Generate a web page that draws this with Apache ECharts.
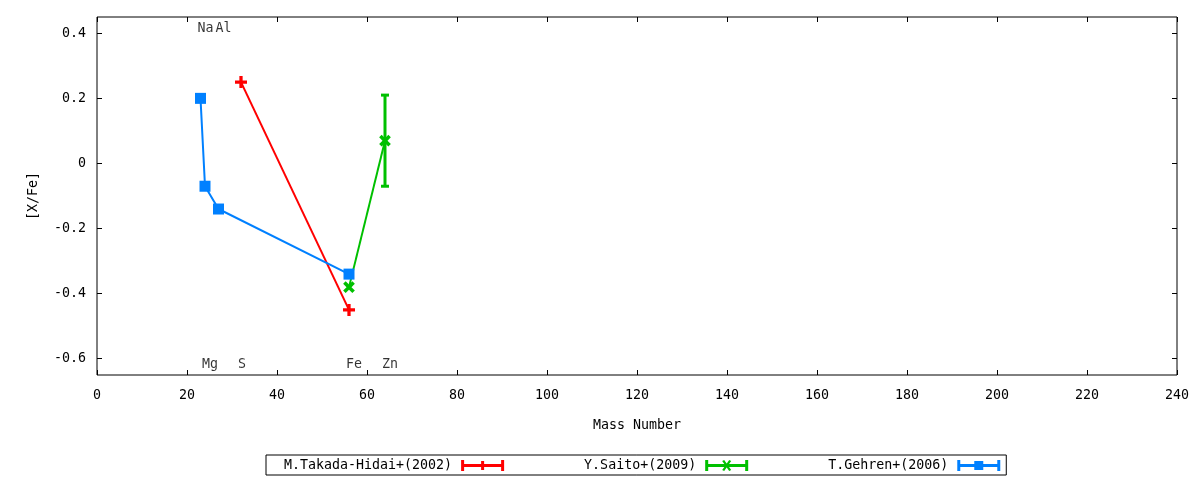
<!DOCTYPE html>
<html>
<head>
<meta charset="utf-8">
<script src="https://cdn.jsdelivr.net/npm/echarts@6/dist/echarts.min.js"></script>
<style>
html,body{margin:0;padding:0;background:#fff;}
#chart{width:1200px;height:480px;}
</style>
</head>
<body>
<div id="chart"></div>
<script>
// ---- data ----
var seriesNames = ['M.Takada-Hidai+(2002)', 'Y.Saito+(2009)', 'T.Gehren+(2006)'];
var takadaX = [32, 56];
var takadaY = [0.25, -0.45];
var takadaErr = [0, 0];
var saitoX = [56, 64];
var saitoY = [-0.38, 0.07];
var saitoErr = [0, 0.14];
var gehrenX = [23, 24, 27, 56];
var gehrenY = [0.2, -0.07, -0.14, -0.34];
var gehrenErr = [0, 0, 0, 0];
var topElements = ['Na', 'Al'];
var topElementMass = [23, 27];
var bottomElements = ['Mg', 'S', 'Fe', 'Zn'];
var bottomElementMass = [24, 32, 56, 64];
var yTickValues = [-0.6, -0.4, -0.2, 0, 0.2, 0.4];
var xTickLabels = ['0','20','40','60','80','100','120','140','160','180','200','220','240'];

var FONT = 'DejaVu Sans Mono';
var FS = 13.3;
var colors = ['#ff0000', '#00c000', '#0080ff'];

function zip(xs, ys) { return xs.map(function (x, i) { return [x, ys[i]]; }); }
function zipErr(xs, ys, es) { return xs.map(function (x, i) { return [x, ys[i], es[i]]; }); }

var plusPath = 'path://M4,0h3v4h4v3h-4v4h-3v-4h-4v-3h4z';
var barBase = 'M0,0h3v11h-3z M40,0h3v11h-3z M0,4h43v3h-43z ';
var legendIcons = [
  'path://' + barBase + 'M20,1h3v9h-3z',
  'path://' + barBase + 'M17,1L19,0L26,10L24,11Z M24,0L26,1L19,11L17,10Z',
  'path://' + barBase + 'M17,1h9v9h-9z'
];

function errRender(color) {
  return function (params, api) {
    var x = api.value(0), y = api.value(1), e = api.value(2);
    if (!e) return null;
    var top = api.coord([x, y + e]);
    var bot = api.coord([x, y - e]);
    var hw = 4;
    var st = { stroke: color, lineWidth: 3 };
    return {
      type: 'group',
      children: [
        { type: 'line', shape: { x1: top[0], y1: top[1], x2: bot[0], y2: bot[1] }, style: st },
        { type: 'line', shape: { x1: top[0] - hw, y1: top[1], x2: top[0] + hw, y2: top[1] }, style: st },
        { type: 'line', shape: { x1: bot[0] - hw, y1: bot[1], x2: bot[0] + hw, y2: bot[1] }, style: st }
      ]
    };
  };
}

function lineSeries(idx, data, symbol, size, rotate) {
  return {
    name: seriesNames[idx],
    type: 'line',
    data: data,
    symbol: symbol,
    symbolSize: size,
    symbolRotate: rotate || 0,
    showSymbol: true,
    lineStyle: { color: colors[idx], width: 2 },
    itemStyle: { color: colors[idx], borderWidth: 0 },
    z: 3 + idx,
    animation: false,
    emphasis: { disabled: true }
  };
}
function errSeries(idx, data) {
  return {
    name: seriesNames[idx],
    type: 'custom',
    data: data,
    renderItem: errRender(colors[idx]),
    z: 3 + idx,
    animation: false,
    silent: true
  };
}

function elemLabelSeries(names, masses, yVal) {
  return {
    type: 'scatter',
    data: masses.map(function (m, i) { return { value: [m, yVal], name: names[i] }; }),
    symbolSize: 0,
    silent: true,
    animation: false,
    label: {
      show: true, position: 'right', distance: 0, offset: [-3, 0],
      formatter: function (p) { return p.name; },
      fontFamily: FONT, fontSize: FS, color: '#000'
    },
    z: 10
  };
}

var axisFont = { fontFamily: FONT, fontSize: FS, color: '#000' };
var tickStyle = { show: true, inside: true, length: 5, lineStyle: { color: '#000', width: 1 } };

var chart = echarts.init(document.getElementById('chart'));
chart.setOption({
  backgroundColor: '#fff',
  animation: false,
  grid: { left: 97, right: 23, top: 17, bottom: 105, show: true, borderColor: '#000', borderWidth: 1, backgroundColor: 'transparent' },
  xAxis: [{
    type: 'value', min: 0, max: 240, interval: 20,
    name: 'Mass Number', nameLocation: 'middle', nameGap: 44,
    nameTextStyle: axisFont,
    axisLine: { show: false, onZero: false },
    axisTick: tickStyle,
    axisLabel: Object.assign({ margin: 14, formatter: function (v) { return xTickLabels[Math.round(v / 20)]; } }, axisFont),
    splitLine: { show: false }
  }, {
    type: 'value', min: 0, max: 240, interval: 20, position: 'top',
    axisLine: { show: false, onZero: false },
    axisTick: tickStyle,
    axisLabel: { show: false },
    splitLine: { show: false }
  }],
  yAxis: [{
    type: 'value', min: -0.65, max: 0.45,
    name: '[X/Fe]', nameLocation: 'middle', nameGap: 57, nameRotate: 90,
    nameTextStyle: axisFont,
    axisLine: { show: false, onZero: false },
    axisTick: Object.assign({ customValues: yTickValues }, tickStyle),
    axisLabel: Object.assign({ margin: 11, customValues: yTickValues, formatter: function (v) { return Math.abs(v) < 1e-9 ? '0' : v.toFixed(1); } }, axisFont),
    splitLine: { show: false }
  }, {
    type: 'value', min: -0.65, max: 0.45, position: 'right',
    axisLine: { show: false, onZero: false },
    axisTick: Object.assign({ customValues: yTickValues }, tickStyle),
    axisLabel: { show: false, customValues: yTickValues },
    splitLine: { show: false }
  }],
  legend: {
    left: 266, top: 455,
    orient: 'horizontal',
    align: 'right',
    itemWidth: 43, itemHeight: 11, itemGap: 80,
    padding: [4, 6, 3, 18],
    borderColor: '#000', borderWidth: 1, borderRadius: 0,
    selectedMode: false,
    textStyle: { fontFamily: FONT, fontSize: FS, color: '#000', padding: [0, 4, 0, 0] },
    data: seriesNames.map(function (n, i) { return { name: n, icon: legendIcons[i], itemStyle: { color: colors[i] } }; })
  },
  series: [
    lineSeries(0, zip(takadaX, takadaY), plusPath, 12, 0),
    errSeries(0, zipErr(takadaX, takadaY, takadaErr)),
    lineSeries(1, zip(saitoX, saitoY), plusPath, 13, 45),
    errSeries(1, zipErr(saitoX, saitoY, saitoErr)),
    lineSeries(2, zip(gehrenX, gehrenY), 'rect', 11, 0),
    errSeries(2, zipErr(gehrenX, gehrenY, gehrenErr)),
    elemLabelSeries(topElements, topElementMass, 0.415),
    elemLabelSeries(bottomElements, bottomElementMass, -0.618)
  ]
});
</script>
</body>
</html>
